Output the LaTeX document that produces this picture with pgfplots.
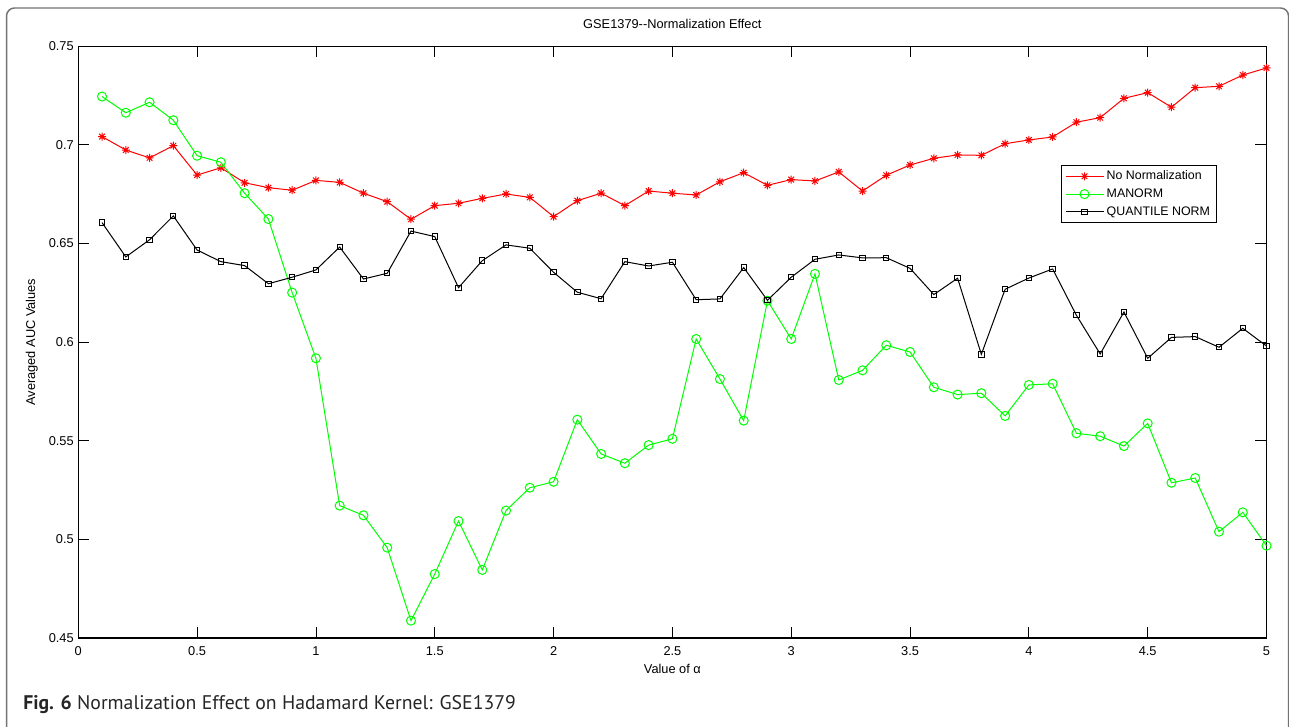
\documentclass[border=0pt]{standalone}
\usepackage{pgfplots}
\pgfplotsset{compat=1.18}
\usepackage{pgfplotstable}
\usepackage{fontspec}
\setmainfont{Liberation Sans}
\newfontfamily\capfont{PT Sans}

\pgfdeclareplotmark{mstar}{%
 \pgfpathmoveto{\pgfqpoint{-\pgfplotmarksize}{0pt}}\pgfpathlineto{\pgfqpoint{\pgfplotmarksize}{0pt}}%
 \pgfpathmoveto{\pgfqpoint{0pt}{-\pgfplotmarksize}}\pgfpathlineto{\pgfqpoint{0pt}{\pgfplotmarksize}}%
 \pgfpathmoveto{\pgfqpoint{-.707\pgfplotmarksize}{-.707\pgfplotmarksize}}\pgfpathlineto{\pgfqpoint{.707\pgfplotmarksize}{.707\pgfplotmarksize}}%
 \pgfpathmoveto{\pgfqpoint{-.707\pgfplotmarksize}{.707\pgfplotmarksize}}\pgfpathlineto{\pgfqpoint{.707\pgfplotmarksize}{-.707\pgfplotmarksize}}%
 \pgfusepathqstroke}

\pgfplotstableread{
x y
0.1 0.7042
0.2 0.6974
0.3 0.6934
0.4 0.6996
0.5 0.6847
0.6 0.6884
0.7 0.6808
0.8 0.6783
0.9 0.6770
1.0 0.6820
1.1 0.6810
1.2 0.6755
1.3 0.6712
1.4 0.6623
1.5 0.6692
1.6 0.6704
1.7 0.6729
1.8 0.6751
1.9 0.6734
2.0 0.6636
2.1 0.6717
2.2 0.6755
2.3 0.6692
2.4 0.6766
2.5 0.6755
2.6 0.6746
2.7 0.6813
2.8 0.6859
2.9 0.6795
3.0 0.6824
3.1 0.6817
3.2 0.6863
3.3 0.6766
3.4 0.6846
3.5 0.6898
3.6 0.6932
3.7 0.6949
3.8 0.6947
3.9 0.7006
4.0 0.7025
4.1 0.7040
4.2 0.7115
4.3 0.7138
4.4 0.7236
4.5 0.7265
4.6 0.7191
4.7 0.7290
4.8 0.7297
4.9 0.7354
5.0 0.7390
}\nonorm

\pgfplotstableread{
x y
0.1 0.7245
0.2 0.7163
0.3 0.7216
0.4 0.7125
0.5 0.6945
0.6 0.6912
0.7 0.6755
0.8 0.6624
0.9 0.6251
1.0 0.5918
1.1 0.5171
1.2 0.5122
1.3 0.4958
1.4 0.4588
1.5 0.4824
1.6 0.5093
1.7 0.4845
1.8 0.5146
1.9 0.5262
2.0 0.5292
2.1 0.5607
2.2 0.5433
2.3 0.5386
2.4 0.5478
2.5 0.5510
2.6 0.6016
2.7 0.5813
2.8 0.5602
2.9 0.6210
3.0 0.6016
3.1 0.6346
3.2 0.5808
3.3 0.5857
3.4 0.5984
3.5 0.5950
3.6 0.5771
3.7 0.5734
3.8 0.5741
3.9 0.5626
4.0 0.5783
4.1 0.5789
4.2 0.5538
4.3 0.5523
4.4 0.5473
4.5 0.5588
4.6 0.5287
4.7 0.5311
4.8 0.5039
4.9 0.5137
5.0 0.4968
}\manorm

\pgfplotstableread{
x y
0.1 0.6606
0.2 0.6432
0.3 0.6519
0.4 0.6640
0.5 0.6467
0.6 0.6408
0.7 0.6388
0.8 0.6296
0.9 0.6329
1.0 0.6366
1.1 0.6482
1.2 0.6320
1.3 0.6349
1.4 0.6563
1.5 0.6535
1.6 0.6276
1.7 0.6413
1.8 0.6493
1.9 0.6476
2.0 0.6354
2.1 0.6253
2.2 0.6220
2.3 0.6408
2.4 0.6386
2.5 0.6405
2.6 0.6215
2.7 0.6219
2.8 0.6378
2.9 0.6212
3.0 0.6329
3.1 0.6420
3.2 0.6442
3.3 0.6427
3.4 0.6428
3.5 0.6374
3.6 0.6241
3.7 0.6324
3.8 0.5938
3.9 0.6268
4.0 0.6325
4.1 0.6371
4.2 0.6136
4.3 0.5940
4.4 0.6153
4.5 0.5918
4.6 0.6024
4.7 0.6028
4.8 0.5974
4.9 0.6070
5.0 0.5980
}\quantile

\begin{document}
\begin{tikzpicture}
\useasboundingbox (0,0) rectangle (966.75pt,545.25pt);
\draw[black!55, line width=1.1pt, rounded corners=6pt] (4.9pt,-20pt) -- (4.9pt,539.25pt) -- (966.4pt,539.25pt) -- (966.4pt,-20pt);
\node[anchor=base west, inner sep=0pt, text=black!85, font=\capfont\fontsize{14.8}{17}\selectfont] at (17.25pt,12.75pt) {\textbf{Fig. 6} Normalization Effect on Hadamard Kernel: GSE1379};
\begin{axis}[
  at={(58.7pt,66.75pt)}, anchor=south west,
  scale only axis, width=891.2pt, height=443.8pt,
  xmin=0, xmax=5, ymin=0.45, ymax=0.75,
  xtick={0,0.5,...,5}, ytick={0.45,0.5,...,0.75},
  tick align=inside, major tick length=8.3pt,
  axis line style={line width=0.8pt},
  every tick/.style={black, line width=0.6pt},
  /pgf/number format/assume math mode=true,
  /pgf/number format/fixed,
  font=\fontsize{9.6}{11}\selectfont,
  yticklabel style={inner sep=0pt, xshift=-3.2pt, /pgf/number format/precision=2},
  xticklabel style={inner sep=0pt, yshift=-6pt},
  title={GSE1379-{}-Normalization Effect},
  title style={at={(axis description cs:0.5,1.0247)}, anchor=center, inner sep=0pt},
  xlabel={Value of α},
  xlabel style={at={(axis description cs:0.5,-0.0524)}, anchor=center, inner sep=0pt},
  ylabel={Averaged AUC Values},
  ylabel style={at={(axis description cs:-0.039,0.5)}, anchor=center, inner sep=0pt},
  legend cell align=left,
  legend image code/.code={\draw[mark repeat=2,mark phase=2] plot coordinates {(0cm,0cm) (0.5cm,0cm) (1cm,0cm)};},
  legend style={at={(rel axis cs:0.9585,0.7995)}, anchor=north east, draw=black, line width=0.8pt,
    font=\fontsize{9.3}{11}\selectfont, inner xsep=3pt, inner ysep=2pt, row sep=1.3pt},
]
\addplot[red, line width=0.75pt, mark=mstar, mark size=3pt] table[x=x,y=y] {\nonorm};
\addlegendentry{No Normalization}
\addplot[green, line width=0.75pt, mark=o, mark size=3.4pt] table[x=x,y=y] {\manorm};
\addlegendentry{MANORM}
\addplot[black, line width=0.75pt, mark=square, mark size=2pt] table[x=x,y=y] {\quantile};
\addlegendentry{QUANTILE NORM}
\end{axis}
\end{tikzpicture}
\end{document}
